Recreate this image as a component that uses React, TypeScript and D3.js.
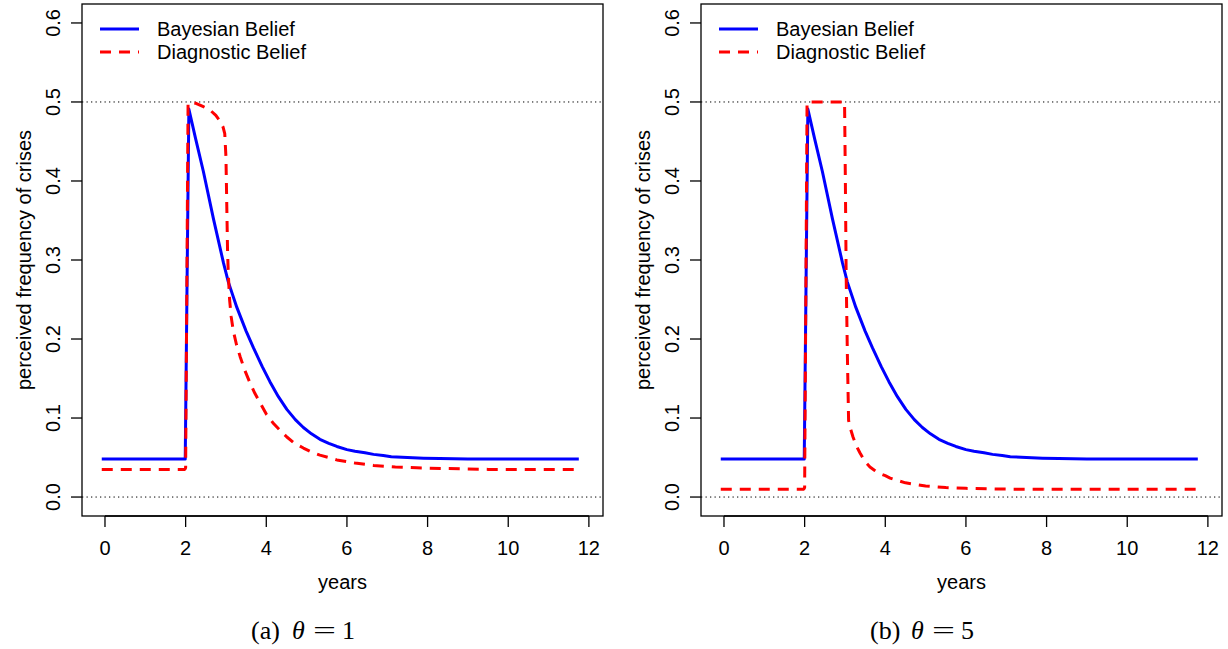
import React from 'react';
import * as d3 from 'd3';

// ---- data ----
const yearTicks = [0, 2, 4, 6, 8, 10, 12];
const freqTicks = [0, 0.1, 0.2, 0.3, 0.4, 0.5, 0.6];
const refLevels = [0, 0.5];
const seriesNames = ['Bayesian Belief', 'Diagnostic Belief'];

// Bayesian belief (same in both panels)
const bayesYears = [-0.08, 1.99, 2.08, 2.25, 2.44, 2.69, 2.94, 3.06, 3.27, 3.5, 3.68, 3.9, 4.09, 4.3, 4.51, 4.72, 4.92, 5.12, 5.33, 5.55, 5.75, 6.0, 6.2, 6.45, 6.66, 6.9, 7.1, 7.5, 7.9, 8.3, 9.0, 10.0, 11.0, 11.75];
const bayesBelief = [0.048, 0.048, 0.491, 0.453, 0.412, 0.352, 0.296, 0.272, 0.240, 0.210, 0.189, 0.165, 0.146, 0.127, 0.111, 0.098, 0.088, 0.080, 0.073, 0.068, 0.064, 0.060, 0.058, 0.056, 0.054, 0.0525, 0.051, 0.050, 0.0492, 0.0487, 0.048, 0.048, 0.048, 0.048];

// Diagnostic belief, theta = 1
const diagYearsA = [-0.08, 1.98, 2.0, 2.06, 2.1, 2.27, 2.44, 2.6, 2.75, 2.85, 2.93, 2.97, 3.0, 3.02, 3.04, 3.06, 3.09, 3.13, 3.18, 3.26, 3.35, 3.47, 3.6, 3.72, 3.85, 4.0, 4.18, 4.35, 4.51, 4.7, 4.92, 5.12, 5.33, 5.55, 5.75, 6.2, 6.66, 7.2, 7.73, 8.5, 9.5, 10.5, 11.75];
const diagBeliefA = [0.035, 0.035, 0.037, 0.497, 0.5, 0.498, 0.494, 0.49, 0.483, 0.476, 0.468, 0.46, 0.43, 0.37, 0.31, 0.28, 0.25, 0.228, 0.211, 0.193, 0.178, 0.160, 0.144, 0.131, 0.119, 0.105, 0.093, 0.084, 0.076, 0.068, 0.062, 0.057, 0.053, 0.050, 0.047, 0.043, 0.040, 0.038, 0.037, 0.036, 0.035, 0.035, 0.035];

// Diagnostic belief, theta = 5
const diagYearsB = [-0.08, 1.98, 2.0, 2.06, 2.5, 2.99, 3.01, 3.03, 3.06, 3.09, 3.14, 3.2, 3.29, 3.37, 3.45, 3.53, 3.62, 3.73, 3.85, 4.0, 4.12, 4.3, 4.5, 4.75, 5.0, 5.5, 6.0, 7.0, 8.0, 9.0, 10.0, 11.75];
const diagBeliefB = [0.010, 0.010, 0.012, 0.5, 0.5, 0.5, 0.40, 0.28, 0.18, 0.097, 0.086, 0.076, 0.064, 0.056, 0.049, 0.043, 0.038, 0.034, 0.030, 0.027, 0.024, 0.021, 0.018, 0.016, 0.014, 0.012, 0.011, 0.010, 0.010, 0.010, 0.010, 0.010];

const panelLabels = ['(a)', '(b)'];
const thetaValues = ['1', '5'];

const W = 1228;
const H = 649;
const SANS = '"Liberation Sans", Arial, Helvetica, sans-serif';
const SERIF = '"Liberation Serif", "DejaVu Serif", serif';
const FS = 20;
const BLUE = '#0000FF';
const RED = '#FF0000';
const DASH = '11,8';

type Pt = [number, number];

function zip(a: number[], b: number[]): Pt[] {
  return a.map((v, i) => [v, b[i]] as Pt);
}

function Panel({ ox, diag, label, theta, capX }: { ox: number; diag: Pt[]; label: string; theta: string; capX: number }) {
  const x = d3.scaleLinear().domain([-0.57, 12.35]).range([ox + 82, ox + 603]);
  const y = d3.scaleLinear().domain([-0.024, 0.624]).range([516, 4]);
  const line = d3.line<Pt>().x(d => x(d[0])).y(d => y(d[1])).curve(d3.curveLinear);
  const bayes = zip(bayesYears, bayesBelief);
  const [x0, x1] = x.range();
  const [yb, yt] = y.range();
  const tick = 11;
  const capBase = 639;
  return (
    <g>
      {refLevels.map(l => (
        <line key={l} x1={x0} x2={x1} y1={y(l)} y2={y(l)} stroke="#000" strokeWidth={1} strokeDasharray="1.3,3.2" />
      ))}
      <path d={line(bayes) || ''} fill="none" stroke={BLUE} strokeWidth={3} strokeLinejoin="round" />
      <path d={line(diag) || ''} fill="none" stroke={RED} strokeWidth={3} strokeDasharray={DASH} strokeLinejoin="round" />
      <rect x={x0} y={yt} width={x1 - x0} height={yb - yt} fill="none" stroke="#000" strokeWidth={1.3} />
      {/* x axis */}
      <line x1={x(yearTicks[0])} x2={x(yearTicks[yearTicks.length - 1])} y1={yb} y2={yb} stroke="#000" strokeWidth={1.3} />
      {yearTicks.map(t => (
        <g key={t}>
          <line x1={x(t)} x2={x(t)} y1={yb} y2={yb + tick} stroke="#000" strokeWidth={1.3} />
          <text x={x(t)} y={548} dy="0.35em" textAnchor="middle" fontFamily={SANS} fontSize={FS}>{t}</text>
        </g>
      ))}
      <text x={(x0 + x1) / 2} y={582} dy="0.35em" textAnchor="middle" fontFamily={SANS} fontSize={FS}>years</text>
      {/* y axis */}
      {freqTicks.map(t => (
        <g key={t}>
          <line x1={x0 - tick} x2={x0} y1={y(t)} y2={y(t)} stroke="#000" strokeWidth={1.3} />
          <text transform={`translate(${ox + 52.5},${y(t)}) rotate(-90)`} dy="0.35em" textAnchor="middle" fontFamily={SANS} fontSize={FS}>{t.toFixed(1)}</text>
        </g>
      ))}
      <text transform={`translate(${ox + 24},${(yb + yt) / 2}) rotate(-90)`} dy="0.35em" textAnchor="middle" fontFamily={SANS} fontSize={FS}>perceived frequency of crises</text>
      {/* legend */}
      {seriesNames.map((n, i) => (
        <g key={n}>
          <line x1={ox + 100} x2={ox + 139} y1={29 + i * 23} y2={29 + i * 23} stroke={i === 0 ? BLUE : RED} strokeWidth={3} strokeDasharray={i === 0 ? undefined : DASH} />
          <text x={ox + 157} y={29 + i * 23} dy="0.35em" fontFamily={SANS} fontSize={FS}>{n}</text>
        </g>
      ))}
      {/* caption */}
      <g fontFamily={SERIF} fill="#000">
        <text x={capX} y={capBase} fontSize={26}>{label}</text>
        <text x={capX + 41} y={capBase} fontSize={26} fontStyle="italic">θ</text>
        <text x={capX + 62} y={capBase} fontSize={26} textLength={23} lengthAdjust="spacingAndGlyphs">=</text>
        <text x={capX + 91} y={capBase} fontSize={26}>{theta}</text>
      </g>
    </g>
  );
}

export default function App() {
  const diags = [zip(diagYearsA, diagBeliefA), zip(diagYearsB, diagBeliefB)];
  return (
    <svg width={W} height={H} viewBox={`0 0 ${W} ${H}`} style={{ position: 'absolute', left: 0, top: 0, background: '#fff' }}>
      <rect width={W} height={H} fill="#fff" />
      {[0, 1].map(i => (
        <Panel key={i} ox={i * 619} diag={diags[i]} label={panelLabels[i]} theta={thetaValues[i]} capX={i === 0 ? 251 : 870} />
      ))}
    </svg>
  );
}
